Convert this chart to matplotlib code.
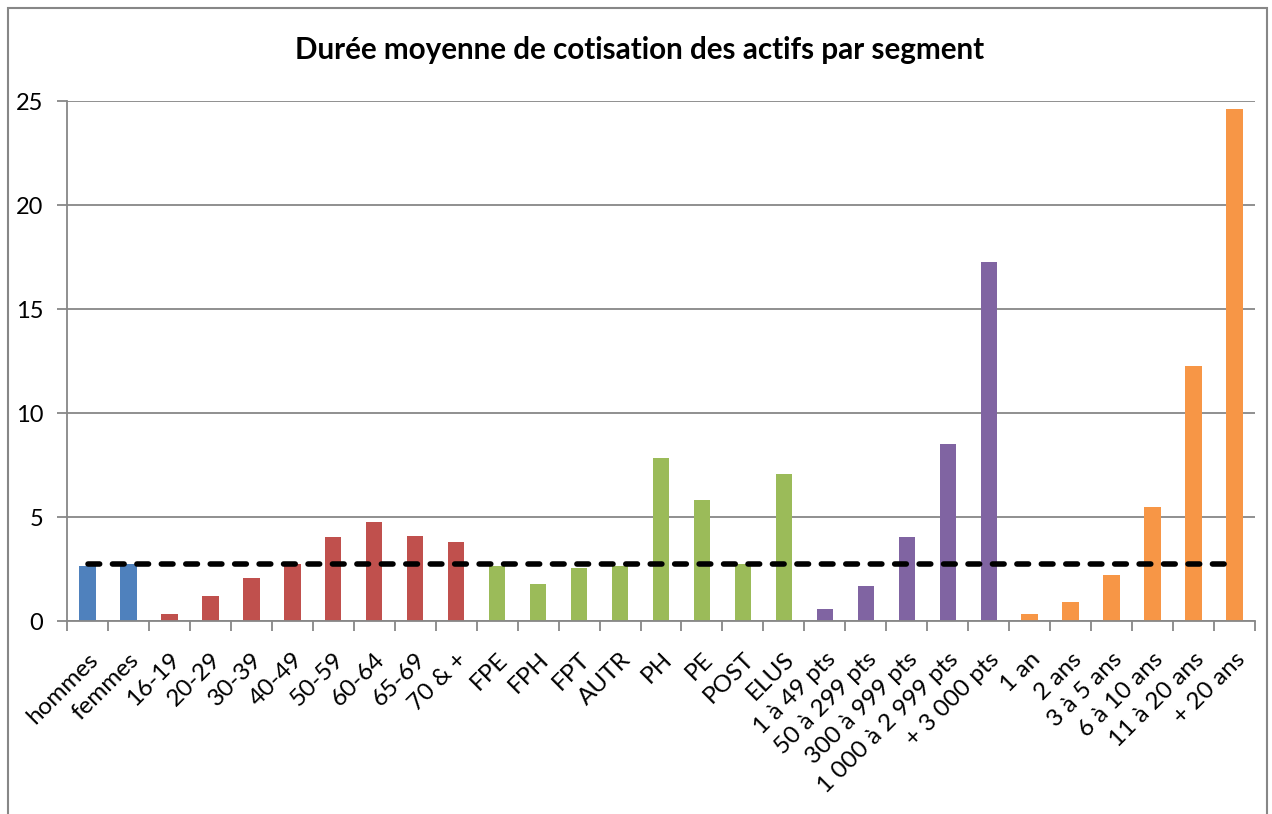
import matplotlib
matplotlib.use("Agg")
import matplotlib.pyplot as plt
from matplotlib.patches import Rectangle

# Durée moyenne de cotisation des actifs par segment
categories = ["hommes", "femmes", "16-19", "20-29", "30-39", "40-49", "50-59", "60-64",
              "65-69", "70 & +", "FPE", "FPH", "FPT", "AUTR", "PH", "PE", "POST", "ELUS",
              "1 à 49 pts", "50 à 299 pts", "300 à 999 pts", "1 000 à 2 999 pts",
              "+ 3 000 pts", "1 an", "2 ans", "3 à 5 ans", "6 à 10 ans", "11 à 20 ans",
              "+ 20 ans"]
valeurs = [2.66, 2.76, 0.34, 1.21, 2.08, 2.76, 4.02, 4.74, 4.11, 3.78,
           2.63, 1.77, 2.54, 2.63, 7.85, 5.82, 2.73, 7.06,
           0.56, 1.67, 4.02, 8.5, 17.25,
           0.35, 0.93, 2.23, 5.46, 12.25, 24.6]
groupes = ["sexe"] * 2 + ["age"] * 8 + ["statut"] * 8 + ["points"] * 5 + ["anciennete"] * 6
moyenne = 2.73

couleurs = {"sexe": "#4F81BD", "age": "#C0504D", "statut": "#9BBB59",
            "points": "#8064A2", "anciennete": "#F79646"}

plt.rcParams["font.family"] = ["Lato", "DejaVu Sans"]

fig = plt.figure(figsize=(12.72, 8.14), dpi=100)
ax = fig.add_axes([0.0527, 0.2371, 0.9339, 0.6388])

x = list(range(len(categories)))
ax.bar(x, valeurs, width=0.4, color=[couleurs[g] for g in groupes], zorder=2)
ax.plot(x, [moyenne] * len(x), color="black", linestyle=(0, (2.1, 2.3)), linewidth=4,
        dash_capstyle="round", zorder=3)

ax.set_ylim(0, 25)
ax.set_xlim(-0.5, len(categories) - 0.5)
ax.set_yticks([0, 5, 10, 15, 20, 25])
ax.yaxis.grid(True, color="#878787", linewidth=1.3, zorder=0)
ax.tick_params(axis="y", labelsize=17, length=7, color="#878787", width=1.3, pad=10)

ax.set_xticks(x)
ax.set_xticklabels(categories, rotation=45, ha="right", rotation_mode="anchor", fontsize=17.5)
ax.tick_params(axis="x", which="major", length=0, pad=20)
ax.set_xticks([i - 0.5 for i in range(len(categories) + 1)], minor=True)
ax.tick_params(axis="x", which="minor", length=7, color="#878787", width=1.3)

for s in ["top", "right"]:
    ax.spines[s].set_visible(False)
ax.spines["left"].set_color("#878787")
ax.spines["bottom"].set_color("#878787")
ax.spines["left"].set_linewidth(1.3)
ax.spines["bottom"].set_linewidth(1.3)

fig.text(0.503, 0.938, "Durée moyenne de cotisation des actifs par segment",
         ha="center", va="center", fontsize=21.3, fontweight="bold")

fig.patches.append(Rectangle((0.006, -0.01), 0.99, 1.0, transform=fig.transFigure,
                             fill=False, edgecolor="#878787", linewidth=1.5))

fig.savefig("out.png", dpi=100)
